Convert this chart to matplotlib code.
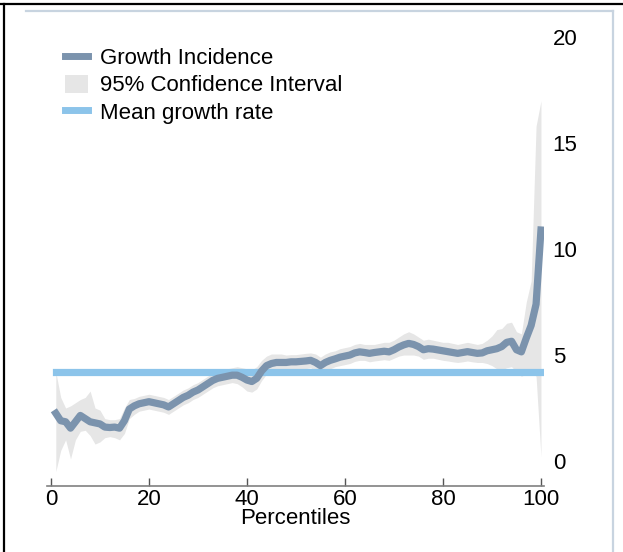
import numpy as np
import matplotlib.pyplot as plt
from matplotlib.lines import Line2D
from matplotlib.patches import Patch

# -------------------------------
# Data
# -------------------------------
percentiles = np.arange(1, 101)

growth = [
    2.25, 1.90, 1.85, 1.55, 1.85, 2.15, 2.00, 1.85, 1.80, 1.75,
    1.60, 1.58, 1.60, 1.55, 1.90, 2.45, 2.60, 2.70, 2.75, 2.80,
    2.75, 2.70, 2.65, 2.55, 2.70, 2.85, 3.00, 3.10, 3.25, 3.35,
    3.50, 3.65, 3.80, 3.90, 3.95, 4.00, 4.05, 4.05, 3.95, 3.82,
    3.75, 3.90, 4.25, 4.50, 4.60, 4.65, 4.65, 4.65, 4.68, 4.68,
    4.70, 4.72, 4.75, 4.65, 4.50, 4.65, 4.75, 4.82, 4.90, 4.95,
    5.00, 5.10, 5.15, 5.12, 5.08, 5.12, 5.15, 5.18, 5.15, 5.25,
    5.38, 5.48, 5.55, 5.50, 5.40, 5.25, 5.30, 5.28, 5.24, 5.20,
    5.16, 5.12, 5.08, 5.12, 5.16, 5.12, 5.08, 5.10, 5.20, 5.25,
    5.30, 5.40, 5.60, 5.65, 5.25, 5.15, 5.80, 6.40, 7.40, 10.90,
]

ci_upper = [
    4.20, 3.00, 2.50, 2.60, 2.75, 2.90, 3.00, 3.30, 2.50, 2.40,
    2.00, 1.95, 1.95, 2.00, 2.50, 2.90, 2.95, 3.05, 3.10, 3.15,
    3.10, 3.05, 3.00, 2.90, 3.05, 3.20, 3.35, 3.45, 3.60, 3.70,
    3.85, 4.00, 4.15, 4.25, 4.30, 4.35, 4.40, 4.45, 4.40, 4.35,
    4.30, 4.45, 4.75, 4.95, 5.05, 5.05, 5.05, 5.00, 5.02, 5.02,
    5.05, 5.08, 5.10, 5.05, 4.90, 5.05, 5.15, 5.20, 5.30, 5.35,
    5.40, 5.50, 5.55, 5.50, 5.50, 5.50, 5.55, 5.60, 5.60, 5.70,
    5.85, 6.00, 6.10, 6.00, 5.85, 5.70, 5.75, 5.70, 5.65, 5.60,
    5.60, 5.55, 5.50, 5.55, 5.60, 5.55, 5.50, 5.55, 5.70, 5.90,
    6.20, 6.25, 6.50, 6.55, 6.10, 6.00, 7.50, 8.50, 15.80, 17.00,
]

ci_lower = [
    -0.50, 0.50, 1.00, 0.10, 1.00, 1.40, 1.45, 1.20, 0.80, 0.90,
    1.10, 1.15, 1.10, 1.00, 1.30, 2.00, 2.20, 2.35, 2.40, 2.45,
    2.40, 2.35, 2.30, 2.20, 2.35, 2.50, 2.65, 2.75, 2.90, 3.00,
    3.15, 3.30, 3.45, 3.55, 3.60, 3.65, 3.70, 3.65, 3.50, 3.30,
    3.25, 3.40, 3.80, 4.10, 4.20, 4.25, 4.28, 4.30, 4.32, 4.32,
    4.35, 4.36, 4.40, 4.25, 4.10, 4.25, 4.35, 4.45, 4.50, 4.55,
    4.60, 4.70, 4.75, 4.75, 4.68, 4.72, 4.75, 4.78, 4.75, 4.85,
    4.95, 5.00, 5.00, 5.00, 4.95, 4.80, 4.85, 4.85, 4.80, 4.75,
    4.72, 4.68, 4.65, 4.68, 4.72, 4.68, 4.65, 4.65, 4.60, 4.50,
    4.35, 4.30, 4.40, 4.45, 4.20, 4.00, 4.10, 4.20, 4.00, 0.20,
]

mean_growth = 4.2

x_ticks = [0, 20, 40, 60, 80, 100]
y_ticks = [0, 5, 10, 15, 20]

# -------------------------------
# Styling
# -------------------------------
GROWTH_COLOR = '#7b93ad'
CI_COLOR = '#e6e6e6'
MEAN_COLOR = '#8cc4ea'

plt.rcParams['font.family'] = ['Liberation Sans', 'DejaVu Sans']
plt.rcParams['font.size'] = 16

W, H = 623, 552
fig = plt.figure(figsize=(W / 100, H / 100), dpi=100)

# axes box in pixels: left 47, right 544.4, bottom spine at y=486, top y=16
ax = fig.add_axes([47 / W, (H - 486) / H, (544.4 - 47) / W, (486 - 16) / H])

ax.fill_between(percentiles, ci_lower, ci_upper, color=CI_COLOR, lw=0, zorder=1)
ax.plot(percentiles, np.full(len(percentiles), mean_growth), color=MEAN_COLOR,
        lw=5.2, solid_capstyle='projecting', zorder=2)
ax.plot(percentiles, growth, color=GROWTH_COLOR, lw=5.2,
        solid_capstyle='projecting', zorder=3)

ax.set_xlim(-0.8, 100.7)
ax.set_ylim(-1.18, 21)

for side in ['top', 'left', 'right']:
    ax.spines[side].set_visible(False)
ax.spines['bottom'].set_color('#808080')
ax.spines['bottom'].set_linewidth(1.2)

ax.set_xticks(x_ticks)
ax.tick_params(axis='x', direction='in', length=6, width=1, color='#555555', pad=2)
ax.yaxis.tick_right()
ax.set_yticks(y_ticks)
ax.tick_params(axis='y', length=0, pad=6)
ax.set_xlabel('Percentiles', labelpad=-1)

handles = [
    Line2D([], [], color=GROWTH_COLOR, lw=5),
    Patch(facecolor=CI_COLOR, edgecolor='none'),
    Line2D([], [], color=MEAN_COLOR, lw=5),
]
labels = ['Growth Incidence', '95% Confidence Interval', 'Mean growth rate']
fig.legend(handles, labels, loc='upper left', bbox_to_anchor=(54 / W, 1 - 36 / H),
           frameon=False, borderpad=0, handlelength=1.05, handleheight=0.9,
           handletextpad=0.5, labelspacing=0.25)

# decorative frame lines
fig.add_artist(Line2D([0, 1], [1 - 4 / H, 1 - 4 / H], color='black', lw=1.6))
fig.add_artist(Line2D([4 / W, 4 / W], [0, 1 - 4 / H], color='black', lw=1.6))
fig.add_artist(Line2D([26 / W, 613 / W], [1 - 11 / H, 1 - 11 / H], color='#c8d4e0', lw=1.6))
fig.add_artist(Line2D([613 / W, 613 / W], [0, 1 - 11 / H], color='#c8d4e0', lw=1.6))

fig.savefig('out.png', dpi=100)
